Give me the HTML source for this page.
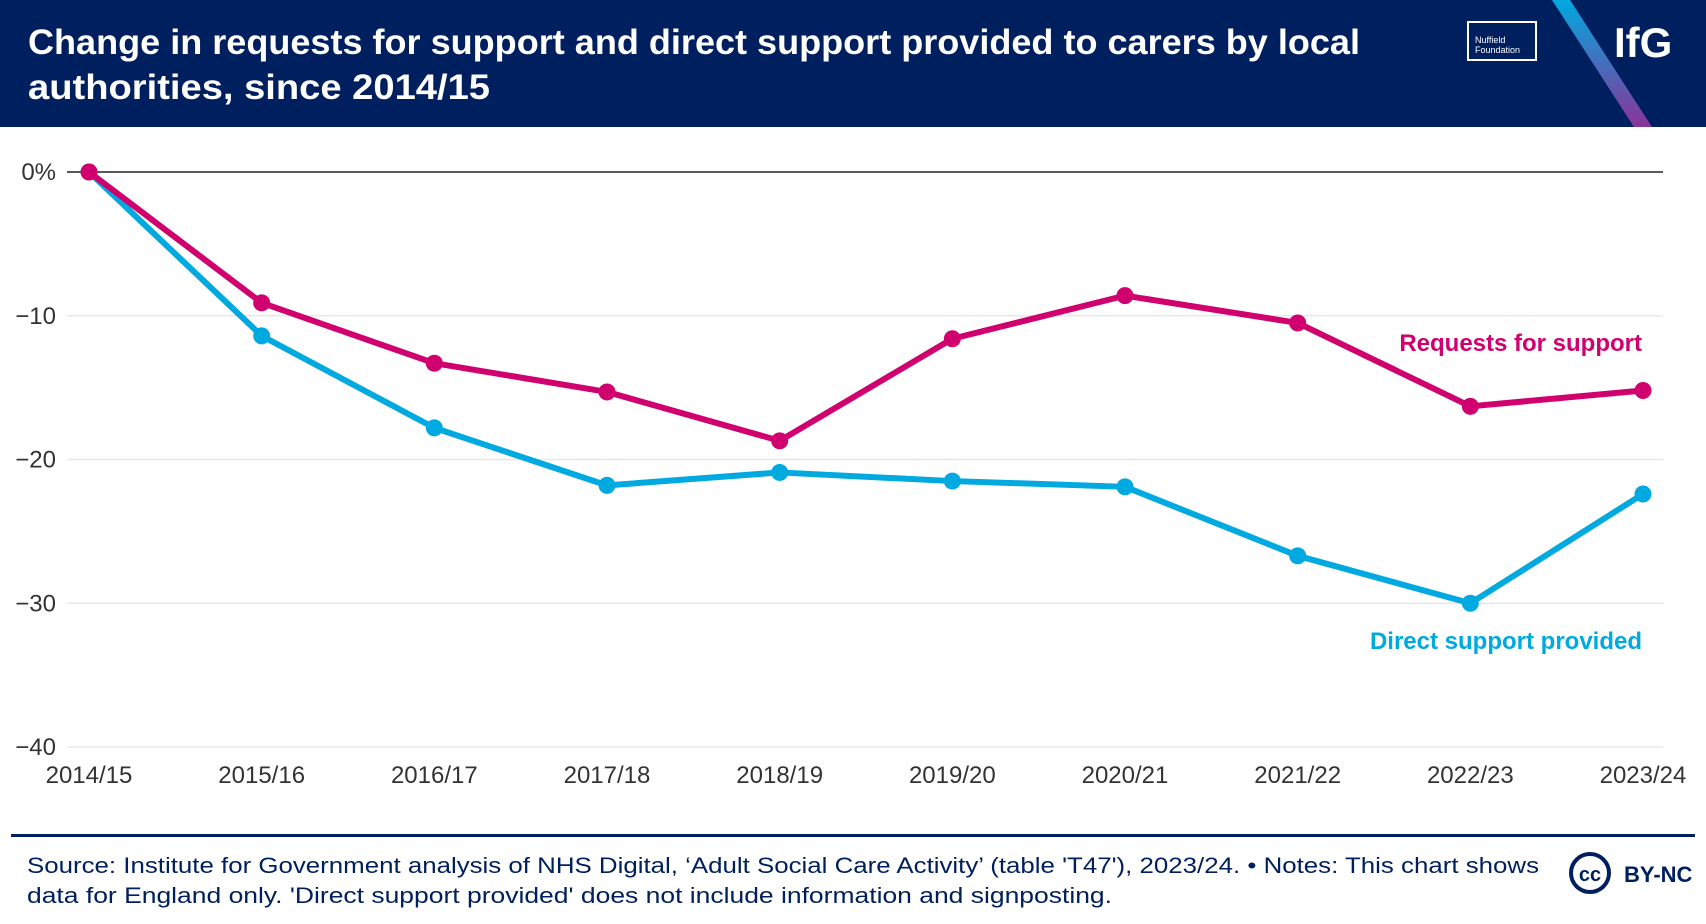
<!DOCTYPE html>
<html><head><meta charset="utf-8"><style>
html,body{margin:0;padding:0;background:#fff;}
svg{display:block;font-family:"Liberation Sans",sans-serif;}
</style></head><body>
<svg id="chart" width="1706" height="924" viewBox="0 0 1706 924">
  <rect x="0" y="0" width="1706" height="127" fill="#001f5f"/>
  <text x="28" y="54" font-size="35" font-weight="bold" fill="#fff" textLength="1332" lengthAdjust="spacingAndGlyphs">Change in requests for support and direct support provided to carers by local</text>
  <text x="28" y="99" font-size="35" font-weight="bold" fill="#fff" textLength="462" lengthAdjust="spacingAndGlyphs">authorities, since 2014/15</text>
  <g>
    <rect x="1468" y="22" width="68" height="38" fill="none" stroke="#fff" stroke-width="2"/>
    <text x="1475" y="43" font-size="9" fill="#fff">Nuffield</text>
    <text x="1475" y="53" font-size="9" fill="#fff">Foundation</text>
  </g>
  <defs><linearGradient id="g" x1="0" y1="0" x2="0" y2="1"><stop offset="0" stop-color="#00a9e0"/><stop offset="1" stop-color="#8a3399"/></linearGradient></defs>
  <polygon points="1552,0 1570,0 1652,127 1634,127" fill="url(#g)"/>
  <text x="1614" y="57" font-size="42" font-weight="bold" fill="#fff">IfG</text>
  <g id="grid"></g>
  <g id="ylabels"></g>
  <g id="xlabels"></g>
  <g id="series"></g>
  <text x="1642" y="351" font-size="24" font-weight="bold" fill="#d0006f" text-anchor="end">Requests for support</text>
  <text x="1642" y="649" font-size="24" font-weight="bold" fill="#00a9e0" text-anchor="end">Direct support provided</text>
  <rect x="11" y="834" width="1684" height="3" fill="#001f5f"/>
  <text x="27" y="873" font-size="22.5" fill="#001f5f" textLength="1512" lengthAdjust="spacingAndGlyphs">Source: Institute for Government analysis of NHS Digital, ‘Adult Social Care Activity’ (table 'T47'), 2023/24. • Notes: This chart shows</text>
  <text x="27" y="903" font-size="22.5" fill="#001f5f" textLength="1085" lengthAdjust="spacingAndGlyphs">data for England only. 'Direct support provided' does not include information and signposting.</text>
  <g>
    <circle cx="1590" cy="873" r="19" fill="none" stroke="#001f5f" stroke-width="4"/>
    <text x="1590" y="881" font-size="20" font-weight="bold" fill="#001f5f" text-anchor="middle">cc</text>
    <text x="1624" y="882" font-size="22" font-weight="bold" fill="#001f5f">BY-NC</text>
  </g>
</svg>
<script>
const categories=["2014/15","2015/16","2016/17","2017/18","2018/19","2019/20","2020/21","2021/22","2022/23","2023/24"];
const requests=[0,-9.1,-13.3,-15.3,-18.7,-11.6,-8.6,-10.5,-16.3,-15.2];
const direct=[0,-11.4,-17.8,-21.8,-20.9,-21.5,-21.9,-26.7,-30.0,-22.4];
const yTicks=[0,-10,-20,-30,-40];
const yTickLabels=["0%","\u221210","\u221220","\u221230","\u221240"];
const NS="http://www.w3.org/2000/svg";
function x(i){return 89+i*(1643-89)/(categories.length-1);}
function y(v){return 172+(-v)*(747-172)/40;}
function mk(tag,attrs,parent){const e=document.createElementNS(NS,tag);for(const k in attrs)e.setAttribute(k,attrs[k]);parent.appendChild(e);return e;}
const grid=document.getElementById('grid'),yl=document.getElementById('ylabels'),xl=document.getElementById('xlabels'),ser=document.getElementById('series');
yTicks.forEach((t,i)=>{
  const l=mk('line',{x1:67,x2:1663,y1:y(t),y2:y(t),stroke:t===0?'#222':'#e8e8e8','stroke-width':t===0?1.5:1.5},grid);
  
  
  const tx=mk('text',{x:56,y:y(t)+8,'font-size':24,fill:'#333','text-anchor':'end'},yl);
  tx.textContent=yTickLabels[i];
  
  
});
categories.forEach((c,i)=>{
  const tx=mk('text',{x:x(i),y:783,'font-size':24,fill:'#333','text-anchor':'middle'},xl);
  tx.textContent=c;
  
  
});
function draw(vals,color,name){
  const p=mk('polyline',{points:vals.map((v,i)=>x(i)+','+y(v)).join(' '),fill:'none',stroke:color,'stroke-width':6,'stroke-linejoin':'round'},ser);
  
  
  vals.forEach((v,i)=>{
    const c=mk('circle',{cx:x(i),cy:y(v),r:8.5,fill:color},ser);
    
    
  });
}
draw(direct,'#00a9e0','direct-support');
draw(requests,'#d0006f','requests');
</script>
</body></html>
